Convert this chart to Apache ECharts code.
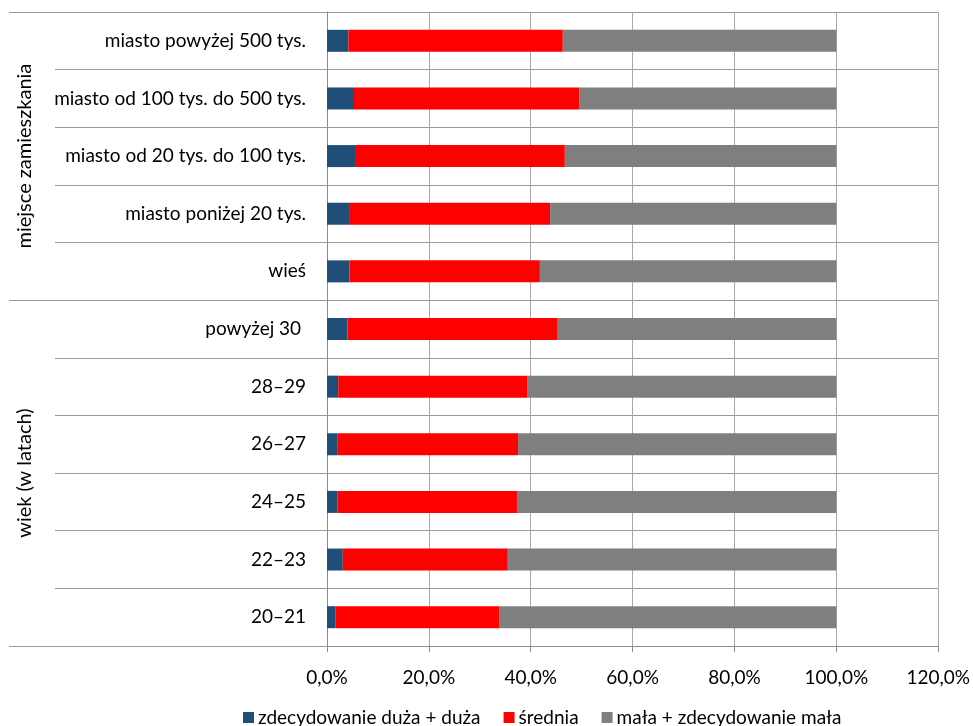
<!DOCTYPE html>
<html><head><meta charset="utf-8">
<script src="https://cdn.jsdelivr.net/npm/echarts@6/dist/echarts.min.js"></script>
<style>html,body{margin:0;padding:0;background:#fff}#c{width:973px;height:726px}</style>
</head><body><div id="c"></div>
<script>
const categories = ['miasto powyżej 500 tys.', 'miasto od 100 tys. do 500 tys.', 'miasto od 20 tys. do 100 tys.', 'miasto poniżej 20 tys.', 'wieś', 'powyżej 30 ', '28–29', '26–27', '24–25', '22–23', '20–21'];
const groups = ['miejsce zamieszkania', 'wiek (w latach)'];
const groupSizes = [5, 6];
const seriesNames = ['zdecydowanie duża + duża', 'średnia', 'mała + zdecydowanie mała'];
const high = [4.2, 5.3, 5.5, 4.5, 4.4, 4.0, 2.2, 2.0, 2.1, 3.1, 1.7];
const medium = [42.1, 44.3, 41.2, 39.3, 37.4, 41.3, 37.2, 35.5, 35.2, 32.4, 32.2];
const low = [53.7, 50.4, 53.3, 56.2, 58.2, 54.7, 60.6, 62.5, 62.7, 64.5, 66.1];
const xTicks = [0, 20, 40, 60, 80, 100, 120];

const FONT = 'Lato';
const chart = echarts.init(document.getElementById('c'), null, {renderer: 'canvas'});
const colors = ['#1f4e79', '#ff0000', '#7f7f7f'];
const values = [high, medium, low];

chart.setOption({
  animation: false,
  textStyle: {fontFamily: FONT},
  grid: {left: 327, right: 33, top: 12, bottom: 80, containLabel: false},
  legend: {
    left: 238, top: 703, icon: 'rect', itemWidth: 11, itemHeight: 11, itemGap: 23,
    textStyle: {fontFamily: FONT, fontSize: 19, color: '#000', padding: [0, 0, 0, -1]},
    data: seriesNames
  },
  xAxis: {
    type: 'value', min: xTicks[0], max: xTicks[xTicks.length - 1], interval: 20,
    axisLine: {show: true, lineStyle: {color: '#8c8c8c', width: 1}},
    axisTick: {show: true, length: 6, lineStyle: {color: '#8c8c8c'}},
    splitLine: {show: true, lineStyle: {color: '#a8a8a8', width: 1}},
    axisLabel: {fontFamily: FONT, fontSize: 19, color: '#000', margin: 22,
      formatter: v => v.toFixed(1).replace('.', ',') + '%'}
  },
  yAxis: {
    type: 'category', inverse: true, data: categories,
    axisLine: {show: true, lineStyle: {color: '#8c8c8c', width: 1}},
    axisTick: {show: true, length: 272, lineStyle: {color: '#9a9a9a'}},
    splitLine: {show: true, lineStyle: {color: '#9a9a9a', width: 1}},
    axisLabel: {fontFamily: FONT, fontSize: 19, color: '#000', margin: 21}
  },
  series: seriesNames.map((n, i) => ({
    name: n, type: 'bar', stack: 'total', barWidth: 22,
    itemStyle: {color: colors[i]},
    data: values[i]
  }))
});

// group label decorations, positioned from the axis scale
const p0 = chart.convertToPixel({yAxisIndex: 0}, 0);
const p1 = chart.convertToPixel({yAxisIndex: 0}, 1);
const band = p1 - p0;
const boundary = i => p0 + band * (i - 0.5);
const axisX = chart.convertToPixel({xAxisIndex: 0}, 0);
const gfx = [];
let start = 0;
const bounds = [0];
groupSizes.forEach(s => { start += s; bounds.push(start); });
bounds.forEach(b => {
  const y = Math.round(boundary(b)) + 0.5;
  gfx.push({type: 'line', shape: {x1: 9, y1: y, x2: axisX - 270, y2: y},
    style: {stroke: '#9a9a9a', lineWidth: 1}, silent: true});
});
groups.forEach((g, i) => {
  const yc = (boundary(bounds[i]) + boundary(bounds[i + 1])) / 2;
  gfx.push({type: 'text', x: 25, y: yc, rotation: Math.PI / 2,
    style: {text: g, font: '20px "' + FONT + '"', fill: '#000', align: 'center', verticalAlign: 'middle'}});
});
chart.setOption({graphic: gfx});
</script>
</body></html>
